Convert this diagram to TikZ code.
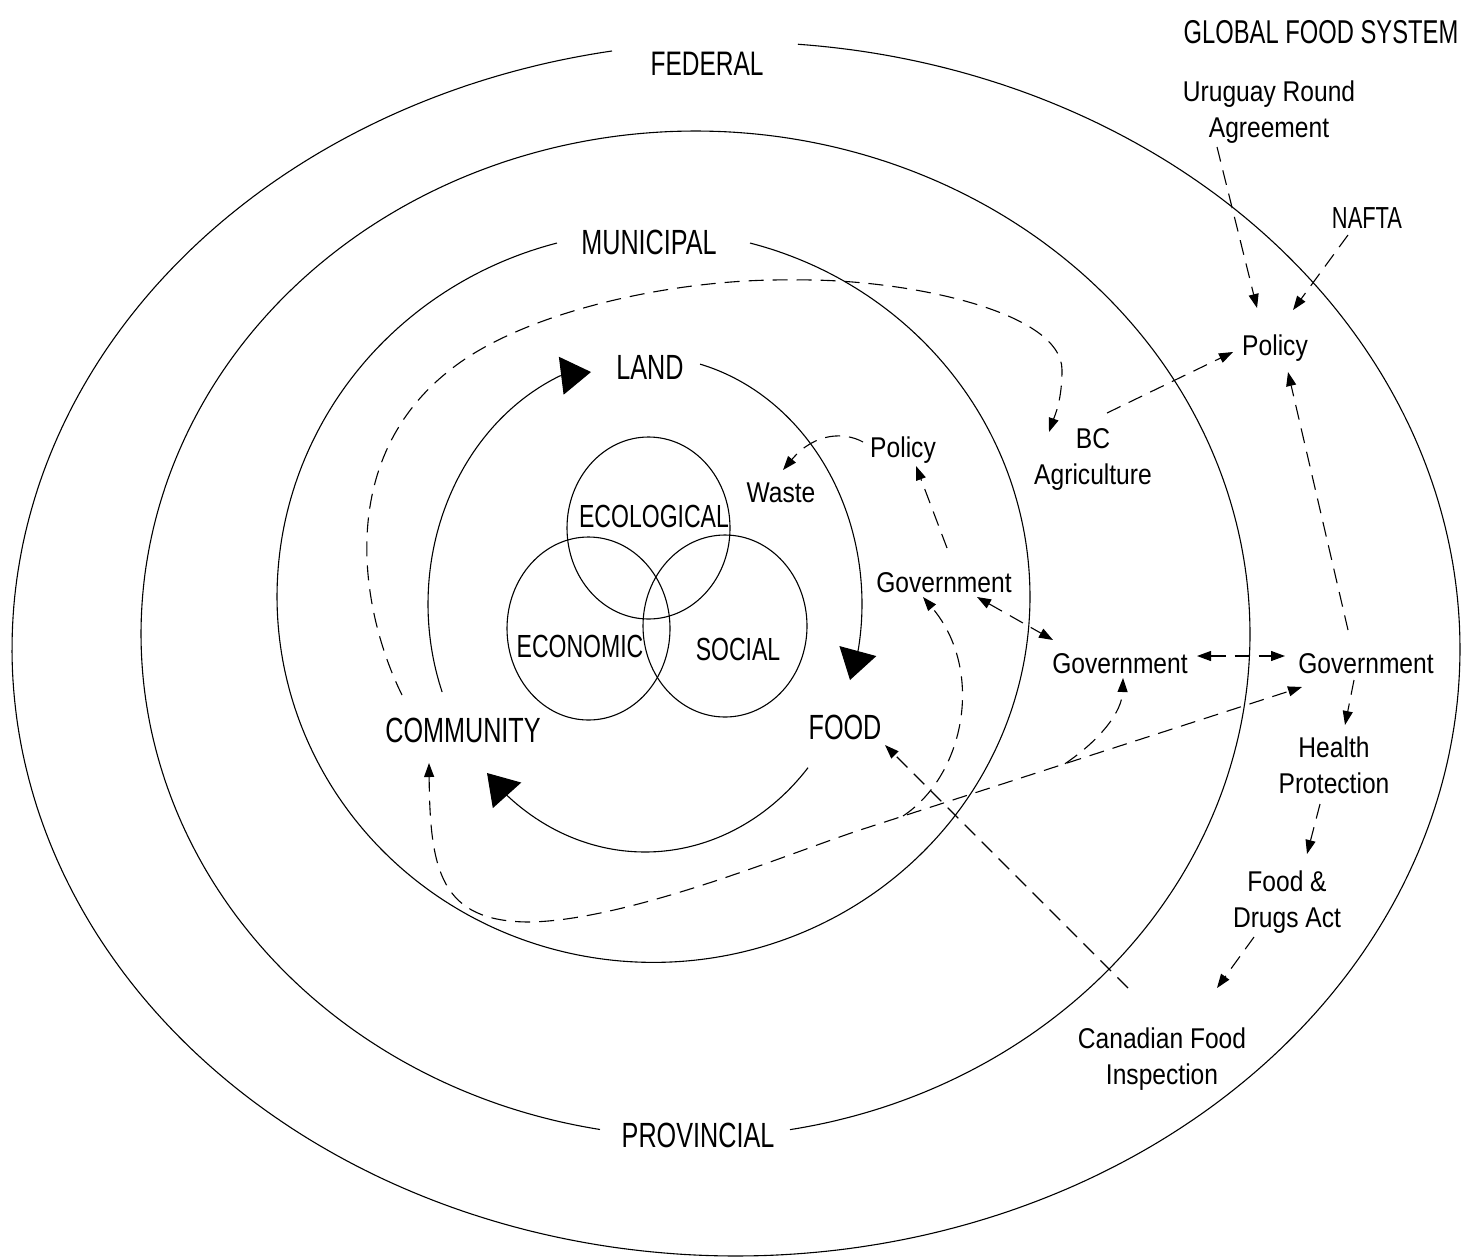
\documentclass[tikz,border=0pt]{standalone}
\usepackage{fontspec}
\setmainfont{Liberation Sans}
\newfontfamily\capf{Liberation Sans}[FakeStretch=0.72]
\newfontfamily\lowf{Liberation Sans}[FakeStretch=0.86]
\usetikzlibrary{arrows.meta,shapes.geometric,calc}
\begin{document}
\begin{tikzpicture}[x=0.5pt,y=-0.5pt,
  >={Triangle[length=7pt,width=5pt]},
  ring/.style={line width=0.55pt},
  dsh/.style={line width=0.55pt, dash pattern=on 7.5pt off 4.5pt},
  bigarr/.style={-{Triangle[length=15pt,width=19pt]}},
  bigl/.style={font=\capf\fontsize{17.5}{21}\selectfont, inner sep=0pt, anchor=base},
  vennl/.style={font=\capf\fontsize{16}{19}\selectfont, inner sep=0pt, anchor=base},
  smalll/.style={font=\lowf\fontsize{14.3}{18}\selectfont, inner sep=0pt, anchor=base},
  multil/.style={font=\lowf\fontsize{14.3}{18}\selectfont, inner sep=0pt, anchor=north, align=center},
  venn/.style={draw, ellipse, line width=0.55pt, inner sep=0pt}]
\useasboundingbox (0,0) rectangle (1470,1258);

% rings (with gaps for their labels)
\draw[ring] plot[domain=274.91:620.14,samples=400] ({736+724*cos(\x)},{649+607*sin(\x)});
\draw[ring] plot[domain=99.92:440.19,samples=400] ({695.5+554.5*cos(\x)},{634+503*sin(\x)});
\draw[ring] plot[domain=284.85:615.15,samples=300] ({653.5+376.5*cos(\x)},{596.6+365.8*sin(\x)});

% ring labels
\node[bigl,font=\capf\fontsize{17}{20}\selectfont] (fed) at (707,75) {FEDERAL};
\node[bigl] (prov) at (698,1147) {PROVINCIAL};
\node[bigl] (mun) at (649,254) {MUNICIPAL};
\node[bigl,font=\capf\fontsize{16.5}{20}\selectfont] (glob) at (1321,43) {GLOBAL FOOD SYSTEM};

% cycle labels
\node[bigl] (land) at (650,379) {LAND};
\node[bigl] (comm) at (463,742) {COMMUNITY};
\node[bigl] (food) at (845,739) {FOOD};

% Venn circles
\node[venn, minimum width=81.5pt, minimum height=91pt] (ecoC) at (648.5,528) {};
\node[venn, minimum width=81.5pt, minimum height=91.5pt] (econC) at (588.5,628.5) {};
\node[venn, minimum width=82pt, minimum height=91pt] (socC) at (725,626) {};
\node[vennl] (ecol) at (654,527) {ECOLOGICAL};
\node[vennl] (econ) at (580,657) {ECONOMIC};
\node[vennl] (soc) at (738,660) {SOCIAL};

% other labels
\node[bigl,font=\capf\fontsize{15.2}{18}\selectfont] (nafta) at (1367,228) {NAFTA};
\node[smalll] (waste) at (781,502) {Waste};
\node[smalll] (polI) at (903,457) {Policy};
\node[smalll] (govI) at (944,592) {Government};
\node[smalll] (govM) at (1120,673) {Government};
\node[smalll] (govR) at (1366,673) {Government};
\node[smalll] (polO) at (1275,355) {Policy};
\node[multil] (uru) at (1269,80) {Uruguay Round\\Agreement};
\node[multil] (bc) at (1093,428) {BC\\Agriculture};
\node[multil] (health) at (1334,736) {Health\\Protection};
\node[multil] (fda) at (1287,870) {Food \&\\Drugs Act};
\node[multil] (cfi) at (1162,1027) {Canadian Food\\Inspection};

% cycle arrows
\draw[ring,bigarr] plot[domain=159.2:246.9,samples=80] ({645+217*cos(\x)},{604+248*sin(\x)}) -- (591,372);
\draw[ring,bigarr] plot[domain=284.7:370.5,samples=80] ({645+217*cos(\x)},{604+248*sin(\x)}) -- (850,680);
\draw[ring,bigarr] plot[domain=41.3:129.3,samples=80] ({645+217*cos(\x)},{604+248*sin(\x)}) -- (487,773);

% dashed connectors
\draw[dsh,->] ($(comm.base)+(-61,-47)$) .. controls (360,610) and (335,460) .. (450,370)
  .. controls (525,310) and (680,278) .. (793,280)
  .. controls (900,278) and (1062,310) .. (1062,370)
  .. controls (1062,400) and (1055,415) .. ($(bc.north)+(-44,4)$);

\draw[dsh,<->] ($(comm.base)+(-34,21)$) .. controls (430,870) and (440,922) .. (530,922)
  .. controls (630,920) and (790,853) .. (860,830) -- ($(govR.base)+(-64,14)$);

\coordinate (j1) at (903,816);
\coordinate (j2) at (1065,763.7);
\draw[dsh,->] (j1) .. controls (965,775) and (985,670) .. ($(govI.base)+(-21,5)$);
\draw[dsh,->] (j2) .. controls (1100,740) and (1122,712) .. ($(govM.base)+(3,5)$);

\draw[dsh,->] ($(cfi.north)+(-34,-39)$) -- ($(food.base)+(40,6)$);
\draw[dsh,->] ($(govI.base)+(3,-44)$) -- ($(polI.base)+(13,9)$);
\draw[dsh,->] ($(polI.base)+(-40,-15)$) .. controls (845,432) and (815,432) .. ($(waste.base)+(2,-32)$);
\draw[dsh,<->] ($(govI.base)+(33,5)$) -- ($(govM.base)+(-67,-33)$);
\draw[dsh,<->] ($(govM.base)+(77,-17)$) -- ($(govR.base)+(-81,-17)$);
\draw[dsh,->] ($(bc.north)+(14,-15)$) -- ($(polO.base)+(-42,-3)$);
\draw[dsh,->] ($(govR.base)+(-18,-43)$) -- ($(polO.base)+(13,17)$);
\draw[dsh,->] ($(govR.base)+(-12,7)$) -- ($(health.north)+(11,-11)$);
\draw[dsh,->] ($(health.north)+(-14,68)$) -- ($(fda.north)+(20,-16)$);
\coordinate (fdaend) at (1217,988);
\draw[dsh,->] ($(fda.north)+(-33,67)$) -- (fdaend);
\draw[dsh,->] ($(uru.north)+(-52,67)$) -- ($(polO.base)+(-18,-47)$);
\draw[dsh,->] ($(nafta.base)+(-19,7)$) -- ($(polO.base)+(18,-45)$);
\end{tikzpicture}
\end{document}
